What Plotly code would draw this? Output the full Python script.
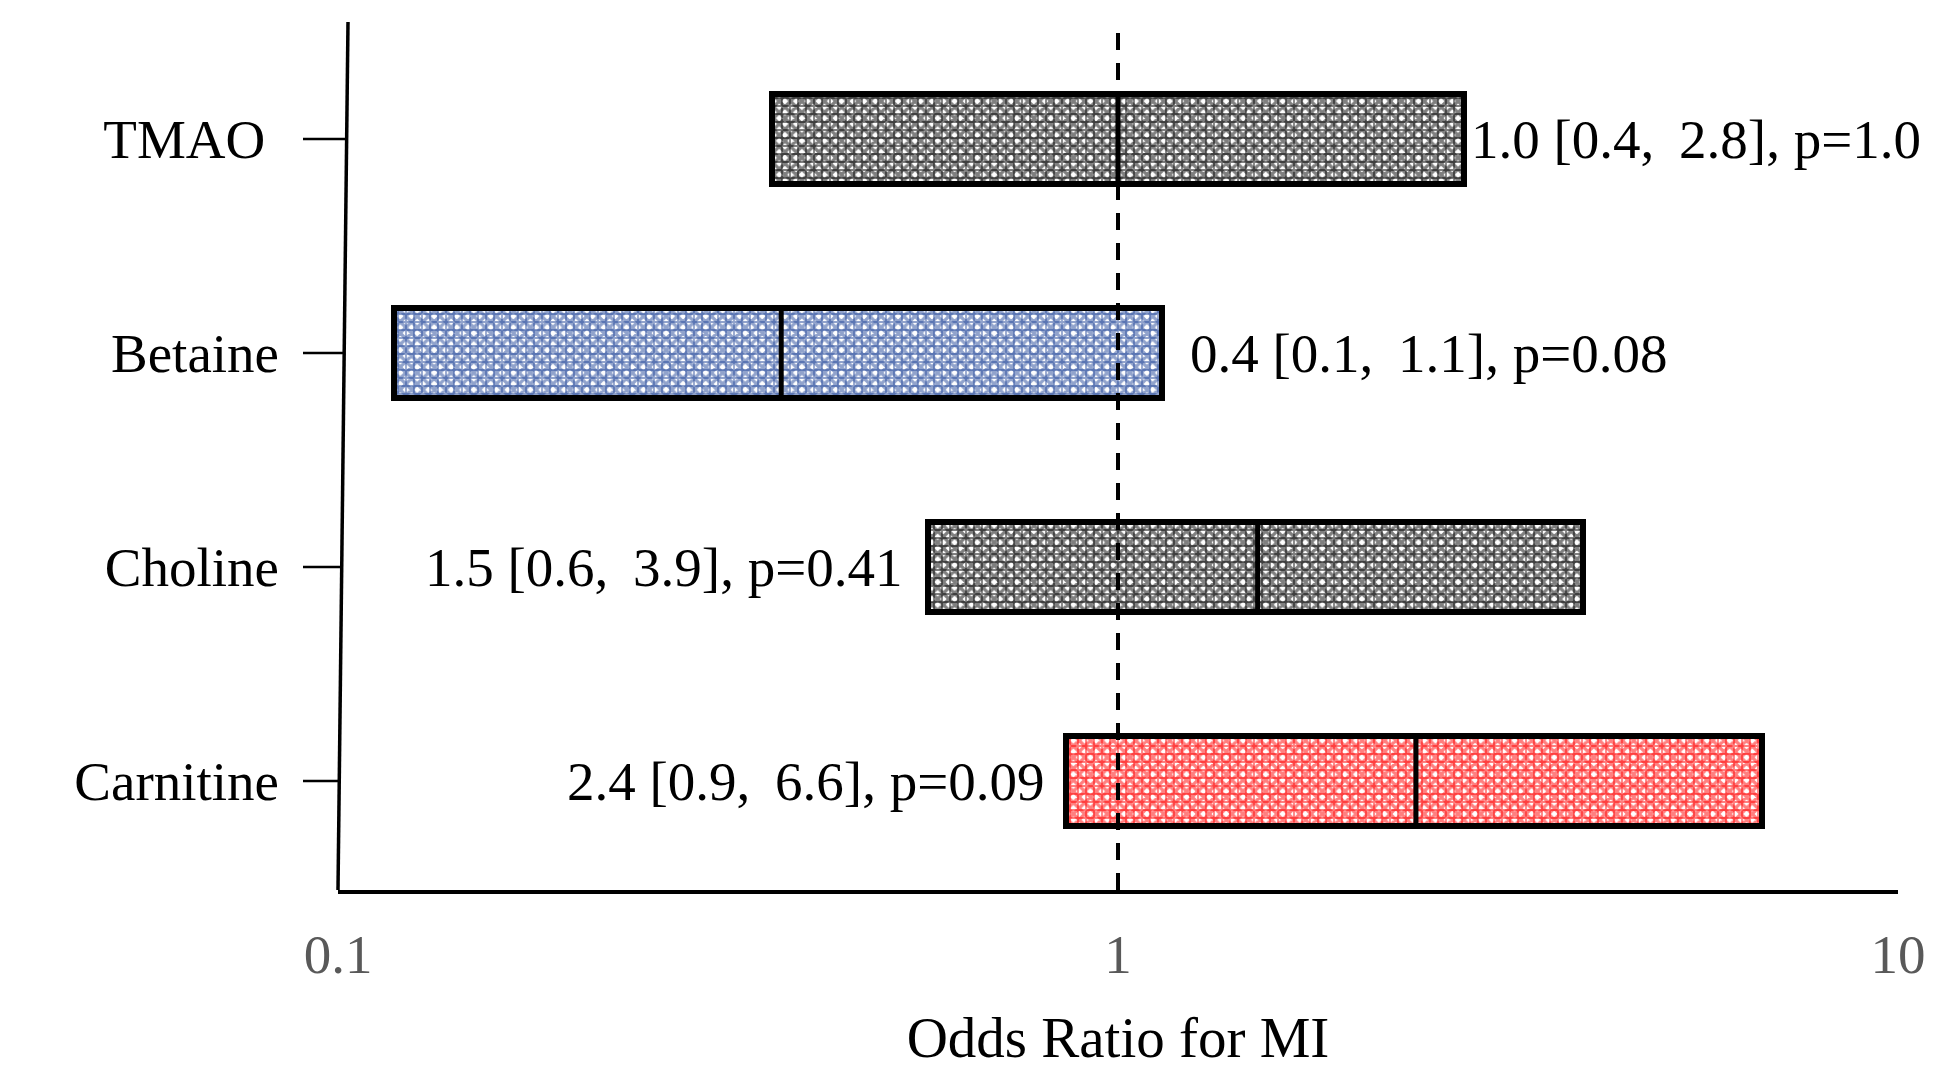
import math
import plotly.graph_objects as go

# ---------------- data ----------------
categories = ["Carnitine", "Choline", "Betaine", "TMAO"]
odds_ratio = [2.41, 1.51, 0.37, 1.00]
ci_lower = [0.857, 0.57, 0.118, 0.36]
ci_upper = [6.70, 3.95, 1.14, 2.78]
p_values = ["0.09", "0.41", "0.08", "1.0"]
or_text = ["2.4", "1.5", "0.4", "1.0"]
lo_text = ["0.9", "0.6", "0.1", "0.4"]
hi_text = ["6.6", "3.9", "1.1", "2.8"]
x_tick_vals = [0.1, 1, 10]
x_tick_text = ["0.1", "1", "10"]

# ---------------- styles ----------------
FONT = "Liberation Serif, Times New Roman, serif"
pattern_colors = ["#FF0000", "#000000", "#24489A", "#000000"]
label_side = ["left", "left", "right", "right"]
label_shift = [-20, -24, 26, 5]
W, H = 1935, 1068
ML, MR, MT, MB = 330, 45, 14, 186
PW, PH = W - ML - MR, H - MT - MB
Y_RANGE = [-0.509, 3.547]
BAR_W = 0.42
SLANT = 10  # px the left axis leans at the top

pos = list(range(len(categories)))
fig = go.Figure()

# hatch layer 1 (x pattern on white)
fig.add_trace(go.Bar(
    orientation="h", y=pos, base=ci_lower,
    x=[u - l for u, l in zip(ci_upper, ci_lower)],
    width=BAR_W,
    marker=dict(color="white", line=dict(width=0),
                pattern=dict(shape="x", fgcolor=pattern_colors, size=8,
                             solidity=0.65, fillmode="overlay")),
    showlegend=False, hoverinfo="skip"))
# hatch layer 2 (+ pattern) with outline
fig.add_trace(go.Bar(
    orientation="h", y=pos, base=ci_lower,
    x=[u - l for u, l in zip(ci_upper, ci_lower)],
    width=BAR_W,
    marker=dict(color="rgba(0,0,0,0)", line=dict(width=6, color="black"),
                pattern=dict(shape="+", fgcolor=pattern_colors, size=8,
                             solidity=0.4, fillmode="overlay")),
    showlegend=False, hoverinfo="skip"))

# median (odds ratio) lines
mx, my = [], []
for i, v in zip(pos, odds_ratio):
    mx += [v, v, None]
    my += [i - BAR_W / 2, i + BAR_W / 2, None]
fig.add_trace(go.Scatter(x=mx, y=my, mode="lines",
                         line=dict(color="black", width=5),
                         showlegend=False, hoverinfo="skip"))

# reference line at OR = 1
y_top = Y_RANGE[1] - (33 - 22) / PH * (Y_RANGE[1] - Y_RANGE[0])
fig.add_trace(go.Scatter(x=[1, 1], y=[y_top, Y_RANGE[0]], mode="lines",
                         line=dict(color="black", width=4, dash="17px,13px"),
                         showlegend=False, hoverinfo="skip"))

# labels
annotations = []
for i in pos:
    txt = f"{or_text[i]} [{lo_text[i]},\u2009 {hi_text[i]}], p={p_values[i]}"
    if label_side[i] == "right":
        ax_x, anchor = math.log10(ci_upper[i]), "left"
    else:
        ax_x, anchor = math.log10(ci_lower[i]), "right"
    annotations.append(dict(x=ax_x, y=i, xref="x", yref="y", text=txt,
                            showarrow=False, xanchor=anchor, yanchor="middle",
                            xshift=label_shift[i],
                            font=dict(family=FONT, size=55, color="black")))

# slanted left axis line and its tick marks
shapes = [dict(type="line", xref="paper", yref="paper",
               x0=SLANT / PW, y0=1, x1=0, y1=0,
               line=dict(color="black", width=3.5))]
for i in pos:
    frac = (i - Y_RANGE[0]) / (Y_RANGE[1] - Y_RANGE[0])
    shapes.append(dict(type="line", xref="paper", yref="y",
                       x0=-35 / PW, x1=SLANT * frac / PW, y0=i, y1=i,
                       line=dict(color="black", width=2.5)))

fig.update_layout(
    width=W, height=H,
    margin=dict(l=ML, r=MR, t=MT, b=MB, pad=0, autoexpand=False),
    paper_bgcolor="white", plot_bgcolor="white",
    barmode="overlay", bargap=0,
    font=dict(family=FONT, color="black"),
    annotations=annotations, shapes=shapes,
    xaxis=dict(type="log", range=[-1, 1], tickvals=x_tick_vals,
               ticktext=x_tick_text, showgrid=False, zeroline=False,
               showline=True, linecolor="black", linewidth=4,
               ticks="", ticklabelstandoff=13, automargin=False,
               tickfont=dict(family=FONT, size=55, color="#595959"),
               title=dict(text="Odds Ratio for MI", standoff=34,
                          font=dict(family=FONT, size=57, color="black"))),
    yaxis=dict(range=Y_RANGE, tickvals=pos, automargin=False,
               ticktext=[c if c != "TMAO" else "TMAO\u00a0" for c in categories],
               showgrid=False, zeroline=False, showline=False, ticks="",
               ticklabelstandoff=58,
               tickfont=dict(family=FONT, size=55, color="black")),
)

fig.write_html("out.html")
